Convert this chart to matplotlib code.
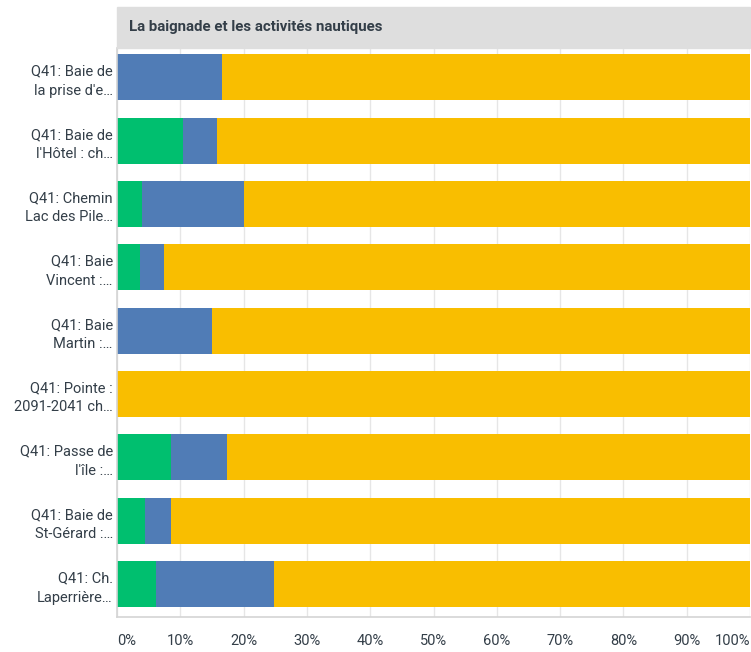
import matplotlib.pyplot as plt
from matplotlib.patches import Rectangle

plt.rcParams['font.family'] = ['Roboto', 'DejaVu Sans']

labels = [
    "Q41: Baie de\nla prise d'e…",
    "Q41: Baie de\nl'Hôtel : ch…",
    "Q41: Chemin\nLac des Pile…",
    "Q41: Baie\nVincent :…",
    "Q41: Baie\nMartin :…",
    "Q41: Pointe :\n2091-2041 ch…",
    "Q41: Passe de\nl'île :…",
    "Q41: Baie de\nSt-Gérard :…",
    "Q41: Ch.\nLaperrière…",
]
green = [0, 10.5, 4.0, 3.6, 0, 0, 8.6, 4.4, 6.2]
blue = [16.6, 5.3, 16.0, 3.8, 15.0, 0, 8.8, 4.1, 18.6]
yellow = [100 - g - b for g, b in zip(green, blue)]

title = "La baignade et les activités nautiques"
ticks = [0, 10, 20, 30, 40, 50, 60, 70, 80, 90, 100]

txt = '#333e48'
fig = plt.figure(figsize=(7.51, 6.52), dpi=100)
ax = fig.add_axes([117 / 751, 35 / 652, 633 / 751, 569 / 652])

y = list(range(len(labels)))
h = 0.726
ax.barh(y, green, height=h, color='#00bf6f', zorder=2)
ax.barh(y, blue, left=green, height=h, color='#507cb6', zorder=2)
left_y = [g + b for g, b in zip(green, blue)]
ax.barh(y, yellow, left=left_y, height=h, color='#f9be00', zorder=2)

ax.set_xlim(0, 100)
ax.set_ylim(8.52, -0.46)
ax.set_yticks(y)
ax.set_yticklabels(labels, fontsize=10.5, color=txt, linespacing=1.45)
ax.set_xticks(ticks)
ax.set_xticklabels([f'{t}%' for t in ticks], fontsize=10.5, color=txt)
xl = ax.get_xticklabels()
xl[0].set_horizontalalignment('left')
xl[-1].set_horizontalalignment('right')
ax.tick_params(axis='both', length=0)
ax.tick_params(axis='x', pad=12)
ax.tick_params(axis='y', pad=3)
ax.grid(axis='x', color='#e6e6e6', linewidth=1, zorder=0)
for s in ['top', 'right']:
    ax.spines[s].set_visible(False)
for s in ['left', 'bottom']:
    ax.spines[s].set_color('#d4d4d4')
    ax.spines[s].set_linewidth(1.2)

fig.patches.append(Rectangle((117 / 751, (652 - 48) / 652), 633 / 751, 41 / 652,
                             transform=fig.transFigure, color='#dedede', zorder=0))
fig.text(129 / 751, (652 - 27) / 652, title, fontsize=10.8, fontweight='bold',
         color=txt, va='center', ha='left')

fig.savefig('out.png', dpi=100)
